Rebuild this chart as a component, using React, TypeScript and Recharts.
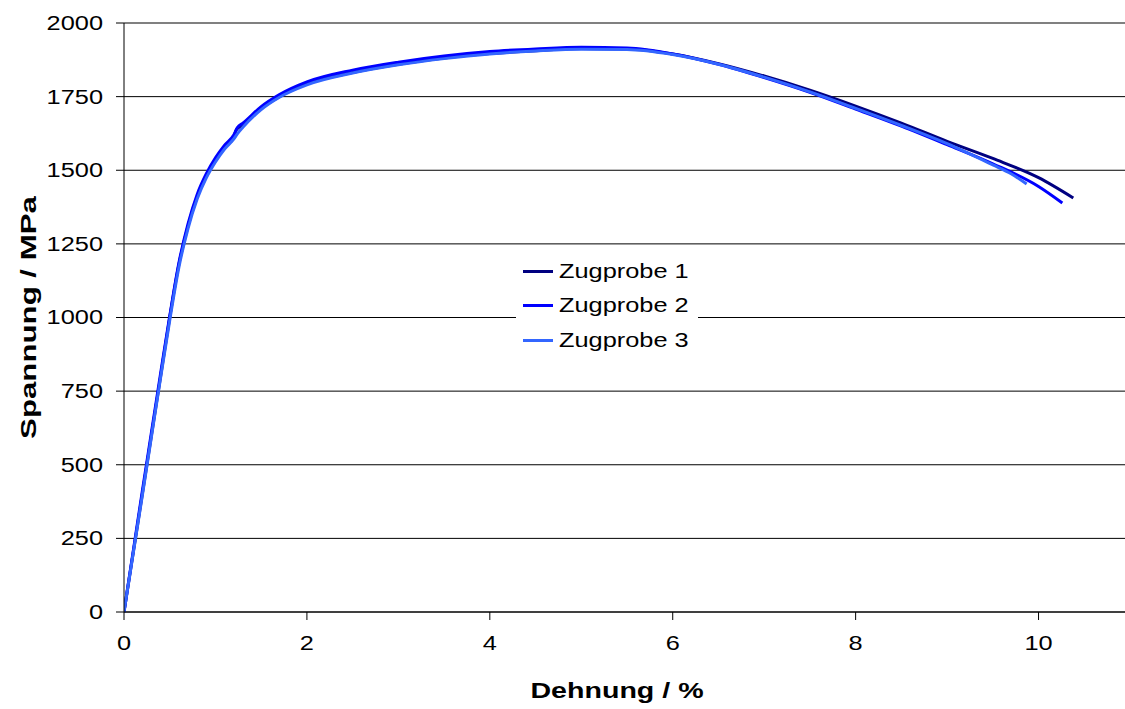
import React from "react";
import {
  LineChart,
  Line,
  XAxis,
  YAxis,
  CartesianGrid,
  ReferenceLine,
} from "recharts";

// strain in %, stress in MPa
const strain1 = [0, 0.1, 0.2, 0.3, 0.4, 0.5, 0.6, 0.7, 0.8, 0.9, 1.0, 1.1, 1.2, 1.23, 1.3, 1.5, 1.7, 2.0, 2.5, 3.0, 3.5, 4.0, 4.5, 5.0, 5.5, 6.0, 6.5, 7.0, 7.5, 8.0, 8.5, 9.0, 9.5, 10.0, 10.38];
const stress1 = [0, 200, 400, 600, 800, 1000, 1180, 1310, 1410, 1480, 1535, 1578, 1612, 1638, 1652, 1710, 1750, 1793, 1832, 1860, 1881, 1896, 1906, 1913, 1912, 1895, 1862, 1820, 1772, 1718, 1660, 1598, 1540, 1475, 1406];

const strain2 = [0, 0.1, 0.2, 0.3, 0.4, 0.5, 0.6, 0.7, 0.8, 0.9, 1.0, 1.1, 1.2, 1.24, 1.3, 1.5, 1.7, 2.0, 2.5, 3.0, 3.5, 4.0, 4.5, 5.0, 5.5, 6.0, 6.5, 7.0, 7.5, 8.0, 8.5, 9.0, 9.5, 10.0, 10.26];
const stress2 = [0, 205, 410, 610, 810, 1005, 1185, 1318, 1418, 1488, 1542, 1585, 1620, 1645, 1660, 1716, 1757, 1800, 1840, 1867, 1888, 1903, 1912, 1918, 1915, 1895, 1860, 1815, 1765, 1708, 1650, 1587, 1522, 1445, 1389];

const strain3 = [0, 0.1, 0.2, 0.3, 0.4, 0.5, 0.6, 0.7, 0.8, 0.9, 1.0, 1.1, 1.2, 1.25, 1.3, 1.5, 1.7, 2.0, 2.5, 3.0, 3.5, 4.0, 4.5, 5.0, 5.5, 6.0, 6.5, 7.0, 7.5, 8.0, 8.5, 9.0, 9.5, 9.7, 9.87];
const stress3 = [0, 198, 395, 595, 795, 990, 1170, 1302, 1402, 1474, 1528, 1572, 1606, 1628, 1646, 1706, 1748, 1790, 1830, 1858, 1879, 1895, 1905, 1911, 1910, 1893, 1860, 1816, 1766, 1710, 1652, 1590, 1518, 1488, 1453];

const xTicks = [0, 2, 4, 6, 8, 10];
const yTicks = [0, 250, 500, 750, 1000, 1250, 1500, 1750, 2000];

const seriesNames = ["Zugprobe 1", "Zugprobe 2", "Zugprobe 3"];
const seriesColors = ["#000080", "#0000ff", "#3366ff"];

const xTitle = "Dehnung / %";
const yTitle = "Spannung / MPa";

const toPoints = (xs: number[], ys: number[]) =>
  xs.map((e, i) => ({ e, s: ys[i] }));

const series = [
  toPoints(strain1, stress1),
  toPoints(strain2, stress2),
  toPoints(strain3, stress3),
];

const FONT = "'Liberation Sans', Arial, sans-serif";
const STRETCH = 1.3; // the original text is drawn wider than normal Arial
const TICK_SIZE = 19.5;
const TITLE_SIZE = 22;

const YTick = ({ x, y, payload }: any) => (
  <g transform={`translate(${x},${y})`}>
    <text
      transform={`scale(${STRETCH},1)`}
      textAnchor="end"
      dy="0.355em"
      fill="#000"
      fontSize={TICK_SIZE}
      fontFamily={FONT}
    >
      {payload.value}
    </text>
  </g>
);

const XTick = ({ x, y, payload }: any) => (
  <g transform={`translate(${x},${y})`}>
    <text
      transform={`scale(${STRETCH},1)`}
      textAnchor="middle"
      dy="0.71em"
      fill="#000"
      fontSize={TICK_SIZE}
      fontFamily={FONT}
    >
      {payload.value}
    </text>
  </g>
);

const XTitle = ({ viewBox }: any) => {
  const cx = viewBox.x + viewBox.width / 2 - 10;
  const cy = viewBox.y + 78;
  return (
    <g transform={`translate(${cx},${cy})`}>
      <text
        transform={`scale(${STRETCH},1)`}
        textAnchor="middle"
        dy="0.355em"
        fill="#000"
        fontWeight="bold"
        fontSize={TITLE_SIZE}
        fontFamily={FONT}
      >
        {xTitle}
      </text>
    </g>
  );
};

const YTitle = ({ viewBox }: any) => {
  const cx = 28;
  const cy = viewBox.y + viewBox.height / 2;
  return (
    <g transform={`translate(${cx},${cy}) rotate(-90)`}>
      <text
        transform="scale(1.42,1)"
        textAnchor="middle"
        dy="0.355em"
        fill="#000"
        fontWeight="bold"
        fontSize={TITLE_SIZE}
        fontFamily={FONT}
      >
        {yTitle}
      </text>
    </g>
  );
};

function LegendBox() {
  return (
    <div
      style={{
        position: "absolute",
        left: 516,
        top: 254,
        width: 182,
        height: 104,
        background: "#fff",
        paddingLeft: 7,
        boxSizing: "border-box",
        fontFamily: FONT,
        fontSize: TICK_SIZE,
        color: "#000",
      }}
    >
      {seriesNames.map((name, i) => (
        <div
          key={name}
          style={{ height: 34.5, display: "flex", alignItems: "center" }}
        >
          <span
            style={{
              display: "inline-block",
              width: 30,
              height: 3,
              background: seriesColors[i],
              marginRight: 6,
            }}
          />
          <span
            style={{
              display: "inline-block",
              whiteSpace: "nowrap",
              transform: `scaleX(${STRETCH})`,
              transformOrigin: "left center",
            }}
          >
            {name}
          </span>
        </div>
      ))}
    </div>
  );
}

export default function App() {
  return (
    <div
      style={{
        position: "fixed",
        left: 0,
        top: 0,
        width: 1125,
        height: 709,
        overflow: "hidden",
        background: "#fff",
        fontFamily: FONT,
      }}
    >
      <LineChart
        width={1140}
        height={709}
        margin={{ top: 23, right: 10, bottom: 0, left: 0 }}
      >
        <CartesianGrid vertical={false} stroke="#000" strokeWidth={1} />
        <ReferenceLine y={2000} stroke="#808080" strokeWidth={2} />
        <XAxis
          type="number"
          dataKey="e"
          domain={[0, 11]}
          ticks={xTicks}
          allowDataOverflow
          height={97}
          stroke="#000"
          tickSize={8}
          tickMargin={16}
          tick={<XTick />}
          label={<XTitle />}
        />
        <YAxis
          type="number"
          dataKey="s"
          domain={[0, 2000]}
          ticks={yTicks}
          width={124}
          stroke="#000"
          tickSize={8}
          tickMargin={13}
          tick={<YTick />}
          label={<YTitle />}
        />
        {series.map((d, i) => (
          <Line
            key={seriesNames[i]}
            data={d}
            dataKey="s"
            name={seriesNames[i]}
            type="monotone"
            stroke={seriesColors[i]}
            strokeWidth={3}
            dot={false}
            activeDot={false}
            isAnimationActive={false}
          />
        ))}
      </LineChart>
      <LegendBox />
    </div>
  );
}
